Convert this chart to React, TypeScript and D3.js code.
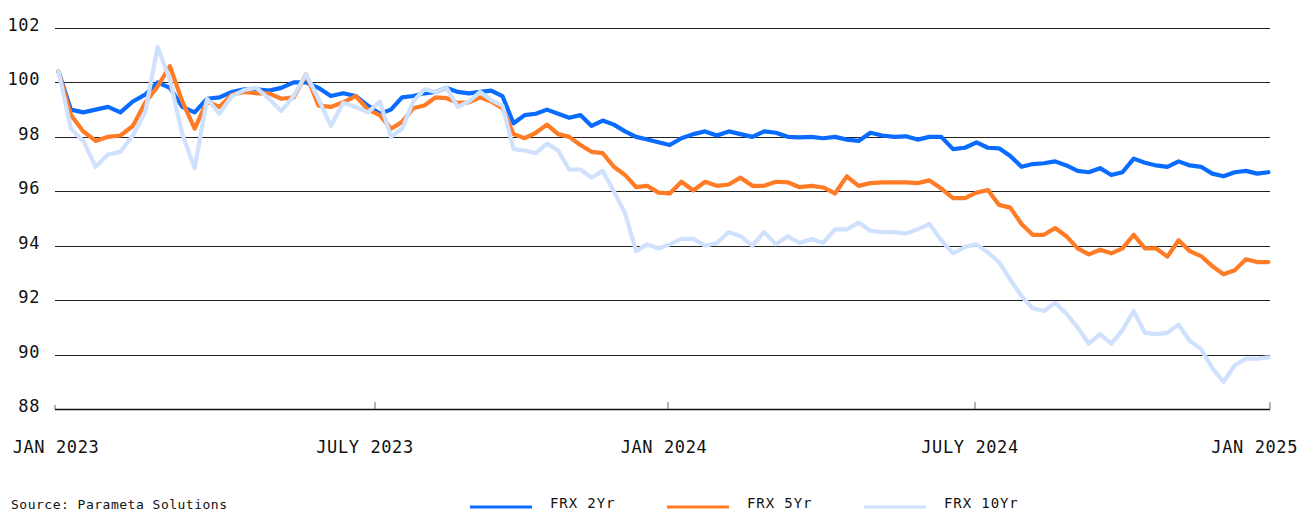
import { useEffect } from 'react';
import * as d3 from 'd3';

// weekly observations, Tuesdays from 3 Jan 2023 to 31 Dec 2024
const dates = d3.timeTuesday.range(new Date(2023, 0, 3), new Date(2025, 0, 1));

const frx2 = [
  100.4, 99.0, 98.9, 99.0, 99.1, 98.9, 99.3, 99.55, 100.0, 99.8,
  99.1, 98.9, 99.4, 99.45, 99.65, 99.75, 99.75, 99.7, 99.8, 100.0,
  100.0, 99.8, 99.5, 99.6, 99.5, 99.15, 98.85, 99.0, 99.45, 99.5,
  99.6, 99.65, 99.8, 99.65, 99.6, 99.65, 99.7, 99.5, 98.5, 98.8,
  98.85, 99.0, 98.85, 98.7, 98.8, 98.4, 98.6, 98.45, 98.2, 98.0,
  97.9, 97.8, 97.7, 97.95, 98.1, 98.2, 98.05, 98.2, 98.1, 98.0,
  98.2, 98.15, 98.0, 97.98, 98.0, 97.95, 98.0, 97.9, 97.85, 98.15,
  98.05, 98.0, 98.02, 97.9, 98.0, 98.0, 97.55, 97.6, 97.8, 97.6,
  97.58, 97.3, 96.9, 97.0, 97.03, 97.1, 96.95, 96.75, 96.7, 96.85,
  96.6, 96.7, 97.2, 97.05, 96.95, 96.9, 97.1, 96.95, 96.9, 96.65,
  96.55, 96.7, 96.75, 96.65, 96.7,
];

const frx5 = [
  100.4, 98.8, 98.2, 97.85, 98.0, 98.05, 98.4, 99.25, 99.85, 100.6,
  99.3, 98.3, 99.3, 99.1, 99.55, 99.65, 99.6, 99.6, 99.4, 99.45,
  100.3, 99.15, 99.1, 99.27, 99.5, 99.0, 98.8, 98.3, 98.55, 99.05,
  99.15, 99.45, 99.42, 99.25, 99.27, 99.45, 99.3, 99.05, 98.1, 97.95,
  98.15, 98.45, 98.1, 98.0, 97.7, 97.45, 97.4, 96.9, 96.6, 96.15,
  96.2, 95.95, 95.92, 96.35, 96.03, 96.35, 96.2, 96.25, 96.5, 96.2,
  96.2, 96.35, 96.33, 96.15, 96.2, 96.14, 95.92, 96.55, 96.2, 96.3,
  96.33, 96.33, 96.33, 96.3, 96.4, 96.1, 95.75, 95.75, 95.95, 96.05,
  95.5, 95.4, 94.8, 94.4, 94.4, 94.65, 94.35, 93.9, 93.68, 93.85,
  93.72, 93.9, 94.4, 93.9, 93.9, 93.6, 94.2, 93.8, 93.62, 93.25,
  92.95, 93.1, 93.5, 93.4, 93.4,
];

const frx10 = [
  100.4, 98.3, 97.85, 96.9, 97.35, 97.45, 98.05, 98.9, 101.3, 100.1,
  98.1, 96.85, 99.4, 98.85, 99.5, 99.72, 99.8, 99.4, 98.95, 99.5,
  100.3, 99.4, 98.4, 99.25, 99.1, 98.9, 99.3, 98.0, 98.3, 99.3,
  99.75, 99.65, 99.8, 99.1, 99.3, 99.65, 99.35, 99.15, 97.55, 97.5,
  97.4, 97.75, 97.5, 96.8, 96.8, 96.5, 96.75, 96.0, 95.2, 93.8,
  94.05, 93.9, 94.05, 94.25, 94.25, 94.0, 94.1, 94.5, 94.35, 94.0,
  94.5, 94.05, 94.35, 94.1, 94.25, 94.1, 94.6, 94.6, 94.85, 94.55,
  94.5, 94.5, 94.45, 94.6, 94.8, 94.2, 93.72, 93.95, 94.05, 93.75,
  93.4, 92.75, 92.15, 91.7, 91.6, 91.9, 91.5, 91.0, 90.4, 90.75,
  90.4, 90.9, 91.6, 90.8, 90.75, 90.8, 91.1, 90.5, 90.2, 89.5,
  89.0, 89.6, 89.85, 89.85, 89.9,
];

const seriesNames = ['FRX 2Yr', 'FRX 5Yr', 'FRX 10Yr'];
const seriesColors = ['#0a6cff', '#ff7b25', '#cfe1fd'];
const yTicks = [88, 90, 92, 94, 96, 98, 100, 102];
const xTickDates = [
  new Date(2023, 0, 1),
  new Date(2023, 6, 1),
  new Date(2024, 0, 1),
  new Date(2024, 6, 1),
  new Date(2025, 0, 1),
];
const xTickLabels = ['JAN 2023', 'JULY 2023', 'JAN 2024', 'JULY 2024', 'JAN 2025'];

const W = 1301;
const H = 513;
const FONT = '"DejaVu Sans Mono", monospace';

export default function App() {
  useEffect(() => {
    document.body.style.margin = '0';
  }, []);

  // the source axis is not evenly spaced in time, so use a piecewise time scale
  const x = d3.scaleTime().domain(xTickDates).range([55, 375, 668, 975, 1270]);
  const y = d3.scaleLinear().domain([88, 102]).range([409, 28]);

  const series = [frx2, frx5, frx10];
  const line = d3
    .line<number>()
    .x((_, i) => x(dates[i]))
    .y((d) => y(d));

  const legendX = [470, 667, 864];
  const labelShift = [1, -10, -4, -5, 0];

  return (
    <svg width={W} height={H} style={{ display: 'block', position: 'absolute', left: 0, top: 0 }}>
      <rect width={W} height={H} fill="#fff" />
      {/* gridlines */}
      {yTicks.slice(1).map((t) => (
        <line key={t} x1={55} x2={1270} y1={Math.round(y(t)) + 0.5} y2={Math.round(y(t)) + 0.5} stroke="#222" strokeWidth={1} />
      ))}
      {/* y labels */}
      {yTicks.map((t) => (
        <text
          key={'l' + t}
          x={40}
          y={y(t) - 3}
          textAnchor="end"
          dominantBaseline="central"
          fontFamily={FONT}
          fontSize={17}
          letterSpacing={0.6}
          fill="#111"
        >
          {t}
        </text>
      ))}
      {/* series, 10Yr drawn last */}
      {series.map((s, k) => (
        <path
          key={seriesNames[k]}
          d={line(s) ?? ''}
          fill="none"
          stroke={seriesColors[k]}
          strokeWidth={4.2}
          strokeLinejoin="round"
          strokeLinecap="round"
        />
      ))}
      {/* bottom axis */}
      <line x1={55} x2={1270} y1={409.5} y2={409.5} stroke="#111" strokeWidth={1.5} />
      {xTickDates.map((d, i) => (
        <line key={'t' + i} x1={x(d)} x2={x(d)} y1={i === 0 ? 405 : 402} y2={409} stroke="#666" strokeWidth={1} />
      ))}
      {xTickDates.map((d, i) => {
        const last = i === xTickDates.length - 1;
        return (
          <text
            key={'x' + i}
            x={last ? 1298 : x(d) + labelShift[i]}
            y={453}
            textAnchor={last ? 'end' : 'middle'}
            fontFamily={FONT}
            fontSize={17}
            letterSpacing={0.6}
            fill="#111"
          >
            {xTickLabels[i]}
          </text>
        );
      })}
      {/* footer */}
      <text x={11} y={509} fontFamily={FONT} fontSize={13} letterSpacing={0.5} fill="#111">
        Source: Parameta Solutions
      </text>
      {seriesNames.map((n, k) => (
        <g key={'lg' + n}>
          <line x1={legendX[k]} x2={legendX[k] + 62} y1={507} y2={507} stroke={seriesColors[k]} strokeWidth={3} />
          <text x={legendX[k] + 80} y={508} fontFamily={FONT} fontSize={14} letterSpacing={0.9} fill="#111">
            {n}
          </text>
        </g>
      ))}
    </svg>
  );
}
